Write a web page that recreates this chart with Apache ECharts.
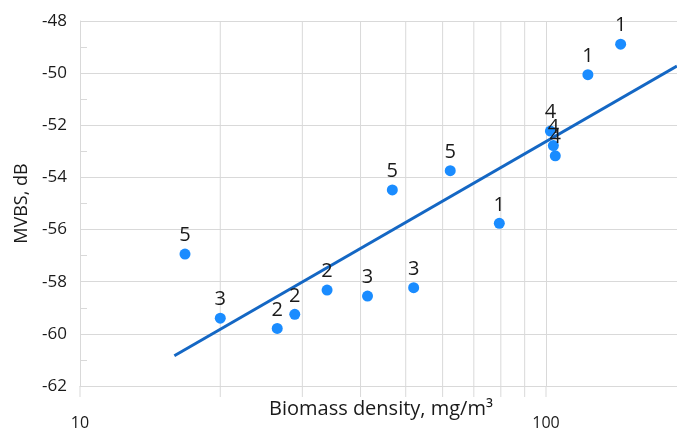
<!DOCTYPE html>
<html>
<head>
<meta charset="utf-8">
<script src="https://cdn.jsdelivr.net/npm/echarts@6/dist/echarts.min.js"></script>
<style>
  html, body { margin: 0; padding: 0; background: #fff; }
  #chart { width: 677px; height: 430px; }
</style>
</head>
<body>
<div id="chart"></div>
<script>
  'use strict'

  // scatter points: biomass density (mg/m3), MVBS (dB), group number shown above
  var biomass = [16.8, 20.0, 26.5, 28.9, 33.9, 41.4, 52.0, 79.4, 62.3, 46.8, 102.2, 103.7, 104.7, 123.0, 144.6];
  var mvbs = [-56.94, -59.40, -59.79, -59.25, -58.32, -58.55, -58.23, -55.76, -53.74, -54.48, -52.22, -52.78, -53.17, -50.06, -48.89];
  var groups = ['5', '3', '2', '2', '2', '3', '3', '1', '5', '5', '4', '4', '4', '1', '1'];

  // regression line ends
  var trendX = [15.94, 191];
  var trendY = [-60.84, -49.73];

  // log grid lines / ticks
  var gridValues = [20, 30, 40, 50, 60, 70, 80, 90];
  var tickValues = [10, 20, 30, 40, 50, 60, 70, 80, 90, 100];

  var yMin = -62, yMax = -48;
  var gridColor = '#d9d9d9';
  var textColor = '#1a1a1a';
  var font = 'Open Sans';

  var points = biomass.map(function (x, i) { return [x, mvbs[i], groups[i]]; });
  var trend = trendX.map(function (x, i) { return [x, trendY[i]]; });
  var ticks = tickValues.map(function (v) { return [v, yMin]; });

  var option = {
    animation: false,
    // grid runs past the right edge (log axis to 1000), like the cropped original
    grid: { left: 80, top: 21, width: 932, height: 365, outerBoundsMode: 'none', containLabel: false },
    xAxis: {
      type: 'log',
      logBase: 10,
      min: 10,
      max: 1000,
      axisLine: { show: true, lineStyle: { color: gridColor } },
      axisTick: { show: false },
      axisLabel: { margin: 29, fontSize: 16, color: textColor, fontFamily: font, formatter: '{value}' },
      splitLine: { show: true, lineStyle: { color: gridColor, width: 1 } }
    },
    yAxis: {
      type: 'value',
      min: yMin,
      max: yMax,
      interval: 2,
      name: 'MVBS, dB',
      nameLocation: 'middle',
      nameGap: 48,
      nameTextStyle: { fontSize: 18, color: textColor, fontFamily: font },
      axisLine: { show: true, lineStyle: { color: gridColor } },
      axisTick: { show: true, inside: true, length: 7, lineStyle: { color: gridColor } },
      minorTick: { show: true, splitNumber: 2, length: 7, lineStyle: { color: gridColor } },
      axisLabel: { margin: 13, fontSize: 17, color: textColor, fontFamily: font },
      splitLine: { show: true, lineStyle: { color: gridColor, width: 1 } }
    },
    graphic: [{
      type: 'text',
      left: 269,
      top: 399,
      style: { text: 'Biomass density, mg/m³', fontSize: 20, fill: textColor, fontFamily: font }
    }],
    series: [
      {
        type: 'custom',
        data: ticks,
        z: 1,
        silent: true,
        clip: false,
        renderItem: function (params, api) {
          var v = api.value(0);
          var bottom = api.coord([v, yMin]);
          var top = api.coord([v, yMax]);
          var children = [{
            type: 'line',
            shape: { x1: bottom[0], y1: bottom[1], x2: bottom[0], y2: bottom[1] + 11 },
            style: { stroke: gridColor, lineWidth: 1 }
          }];
          if (gridValues.indexOf(v) >= 0) {
            children.push({
              type: 'line',
              shape: { x1: top[0], y1: top[1], x2: bottom[0], y2: bottom[1] },
              style: { stroke: gridColor, lineWidth: 1 }
            });
          }
          return { type: 'group', children: children };
        }
      },
      {
        type: 'line',
        data: trend,
        z: 2,
        symbol: 'none',
        lineStyle: { color: '#1467c4', width: 3 }
      },
      {
        type: 'scatter',
        data: points,
        z: 3,
        symbolSize: 11,
        itemStyle: { color: '#1a8cff', opacity: 1 },
        label: {
          show: true,
          position: 'top',
          distance: 3,
          fontSize: 20,
          color: textColor,
          fontFamily: font,
          formatter: function (p) { return p.data[2]; }
        }
      }
    ]
  };

  var chart = echarts.init(document.getElementById('chart'));
  chart.setOption(option);
</script>
</body>
</html>
